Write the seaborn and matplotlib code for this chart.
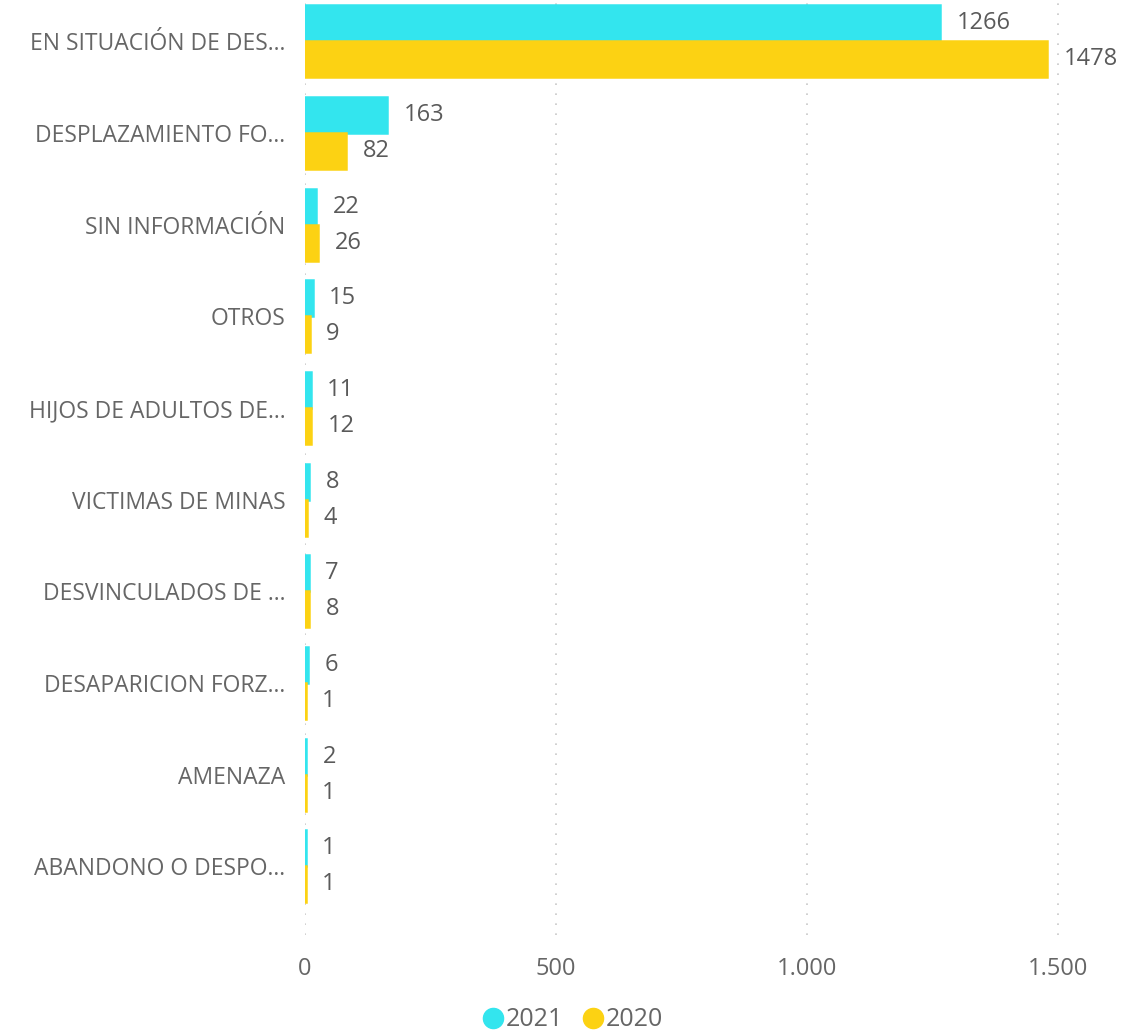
import pandas as pd
import matplotlib.pyplot as plt
import seaborn as sns
from matplotlib.lines import Line2D

# Data
categories = [
    "EN SITUACIÓN DE DES...",
    "DESPLAZAMIENTO FO...",
    "SIN INFORMACIÓN",
    "OTROS",
    "HIJOS DE ADULTOS DE...",
    "VICTIMAS DE MINAS",
    "DESVINCULADOS DE ...",
    "DESAPARICION FORZ...",
    "AMENAZA",
    "ABANDONO O DESPO...",
]
values_2021 = [1266, 163, 22, 15, 11, 8, 7, 6, 2, 1]
values_2020 = [1478, 82, 26, 9, 12, 4, 8, 1, 1, 1]
years = ["2021", "2020"]
colors = ["#33E5EE", "#FCD213"]

df = pd.DataFrame({
    "categoria": categories * 2,
    "valor": values_2021 + values_2020,
    "anio": [years[0]] * len(categories) + [years[1]] * len(categories),
})

sns.set_style("white")
plt.rcParams["font.family"] = ["Open Sans", "DejaVu Sans"]
text_color = "#666666"

fig = plt.figure(figsize=(11.21, 10.35), dpi=100)
ax = fig.add_axes([305 / 1121, 1 - 935 / 1035, (1098 - 305) / 1121, 935 / 1035])

sns.barplot(data=df, y="categoria", x="valor", hue="anio", order=categories,
            hue_order=years, palette=colors, width=0.785, orient="h",
            saturation=1, ax=ax, legend=False)

# small values still get a visible sliver, like the original
for cont, c in zip(ax.containers, colors):
    for bar in cont:
        bar.set_edgecolor(c)
        bar.set_linewidth(1.8)
    ax.bar_label(cont, padding=12, fontsize=17, color="#5a5a5a")

ax.set_xlim(0, 1580)
ax.set_ylim(9.75, -0.45)
ax.set_xticks([0, 500, 1000, 1500])
ax.set_xticklabels(["0", "500", "1.000", "1.500"])
ax.xaxis.grid(True, linestyle=(0, (1, 5)), color="#c8c8c8", linewidth=1.2)
ax.set_axisbelow(True)
ax.set_xlabel("")
ax.set_ylabel("")
ax.tick_params(axis="both", length=0, labelsize=17, colors=text_color)
ax.tick_params(axis="y", labelsize=16.5, pad=14)
ax.tick_params(axis="x", pad=16)
for s in ax.spines.values():
    s.set_visible(False)

handles = [Line2D([], [], marker="o", linestyle="", markersize=14.5,
                  markerfacecolor=c, markeredgecolor=c) for c in colors]
fig.legend(handles, years, loc="center", bbox_to_anchor=(0.51, 1 - 1020 / 1035),
           ncol=2, frameon=False, fontsize=18, labelcolor=text_color,
           handletextpad=0.0, columnspacing=0.7, handlelength=1.0)

fig.savefig("out.png", dpi=100)
